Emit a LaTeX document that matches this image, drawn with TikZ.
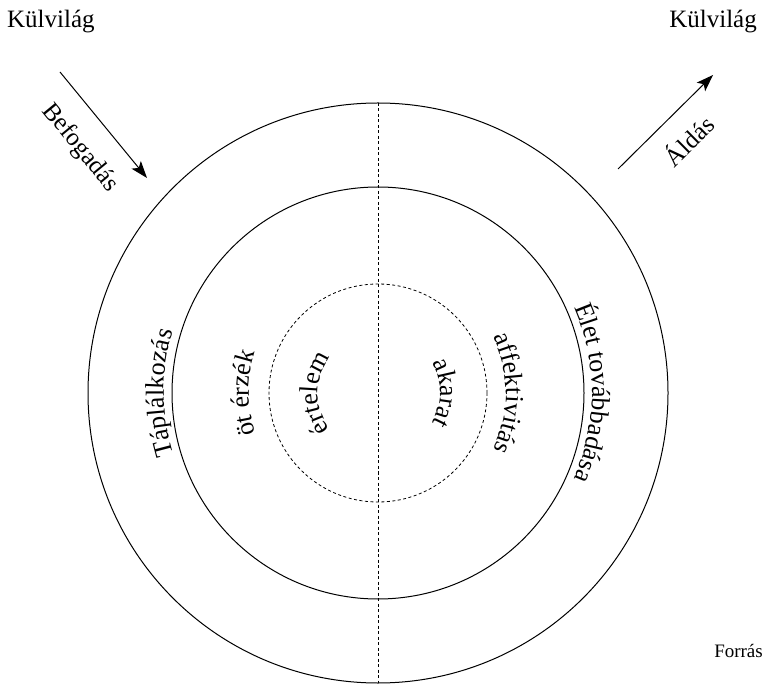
\documentclass[tikz,border=0pt]{standalone}
\usepackage{fontspec}
\setmainfont{Liberation Serif}
\usetikzlibrary{arrows.meta,decorations.text}
\begin{document}
\begin{tikzpicture}[x=1pt,y=1pt,
  ring/.style={line width=1pt},
  dring/.style={line width=0.8pt, dash pattern=on 3pt off 2.5pt},
  bigtxt/.style={font=\fontsize{25}{30}\selectfont, inner sep=0pt},
  smalltxt/.style={font=\fontsize{19}{22}\selectfont, inner sep=0pt},
  flow/.style={line width=1pt, -{Stealth[length=17pt,width=12pt,inset=4pt]}},
  arctext/.style={decorate, decoration={text along path, text align=center, text={|\fontsize{26}{30}\selectfont|#1}}}
]
\useasboundingbox (0,0) rectangle (765,683);
\coordinate (C) at (378,290);
% rings
\draw[ring] (C) circle[radius=290];
\draw[ring] (C) circle[radius=206];
\draw[dring] (C) circle[radius=109];
\coordinate (top) at (378,580);
\coordinate (bot) at (378,0);
\draw[dring] (top) -- (bot);
% outer labels
\node[bigtxt, anchor=base west] (kv1) at (7,655) {Külvilág};
\node[bigtxt, anchor=base east] (kv2) at (757,655) {Külvilág};
\node[smalltxt, anchor=base east] (forras) at (763,26) {Forrás};
% arrows
\coordinate (a1s) at (60,611);
\coordinate (a1e) at (147,505);
\draw[flow] (a1s) -- (a1e);
\coordinate (a2s) at (618,514);
\coordinate (a2e) at (713,608);
\draw[flow] (a2s) -- (a2e);
\node[bigtxt, rotate=-50.6] (befog) at (80,535) {Befogadás};
\node[bigtxt, rotate=44.7] (aldas) at (688,543) {Áldás};
% curved texts
\path[arctext={Táplálkozás}] ([shift={(240:214)}]C) arc[start angle=240, end angle=120, radius=214];
\path[arctext={Élet továbbadása}] ([shift={(60:214)}]C) arc[start angle=60, end angle=-60, radius=214];
\path[arctext={öt érzék}] ([shift={(250:129)}]C) arc[start angle=250, end angle=110, radius=129];
\path[arctext={affektivitás}] ([shift={(70:128)}]C) arc[start angle=70, end angle=-70, radius=128];
\path[arctext={értelem}] ([shift={(260:60)}]C) arc[start angle=260, end angle=100, radius=60];
\path[arctext={akarat}] ([shift={(80:62)}]C) arc[start angle=80, end angle=-80, radius=62];
\end{tikzpicture}
\end{document}
